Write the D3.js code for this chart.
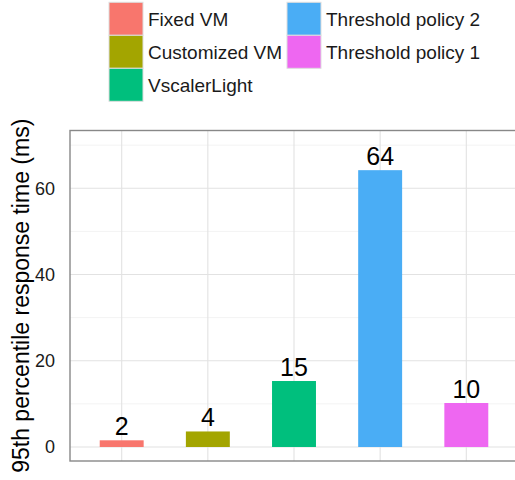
<!DOCTYPE html>
<html><head><meta charset="utf-8">
<script src="https://cdn.jsdelivr.net/npm/d3@7"></script>
<style>html,body{margin:0;padding:0;background:#fff;}svg{display:block;font-family:"Liberation Sans",Arial,sans-serif;}</style>
</head><body>
<script>
const categories = ["Fixed VM","Customized VM","VscalerLight","Threshold policy 2","Threshold policy 1"];
const values = [1.55, 3.6, 15.3, 64.2, 10.2];
const colors = ["#F8766D","#A3A500","#00BF7D","#4AADF5","#EE67F1"];
const yTicks = [0,20,40,60];
const yMinor = [10,30,50,70];
const yTitle = "95th percentile response time (ms)";

const W = 515, H = 480;
const svg = d3.select("body").append("svg").attr("width", W).attr("height", H);

const panel = {left:70, top:130.5, bottom:461, right:518};
const n = categories.length;
const step = (panel.right - panel.left) / (n - 1 + 1.2);
const x = d3.scalePoint().domain(categories).range([panel.left + 0.6*step, panel.right - 0.6*step]);
const y = d3.scaleLinear().domain([-3.25, 73.4]).range([panel.bottom, panel.top]);
const barW = step * 0.51;

const g = svg.append("g");
// minor grid
g.selectAll(".minor").data(yMinor).join("line")
  .attr("x1", panel.left).attr("x2", panel.right)
  .attr("y1", d=>y(d)).attr("y2", d=>y(d))
  .attr("stroke", "#f3f3f3").attr("stroke-width", 1);
// major grid
g.selectAll(".major").data(yTicks).join("line")
  .attr("x1", panel.left).attr("x2", panel.right)
  .attr("y1", d=>y(d)).attr("y2", d=>y(d))
  .attr("stroke", "#e2e2e2").attr("stroke-width", 1.1);
g.selectAll(".vgrid").data(categories).join("line")
  .attr("x1", d=>x(d)).attr("x2", d=>x(d))
  .attr("y1", panel.top).attr("y2", panel.bottom)
  .attr("stroke", "#e2e2e2").attr("stroke-width", 1.1);

// bars
g.selectAll(".bar").data(categories).join("rect")
  .attr("x", d=>x(d)-barW/2).attr("width", barW)
  .attr("y", (d,i)=>y(values[i])).attr("height", (d,i)=>y(0)-y(values[i]))
  .attr("fill", (d,i)=>colors[i]);

// labels
g.selectAll(".lbl").data(categories).join("text")
  .attr("x", d=>x(d)).attr("y", (d,i)=>y(values[i]) - 5.5)
  .attr("text-anchor","middle").attr("font-size", 25).attr("fill","#000")
  .text((d,i)=>Math.round(values[i]));

// panel border
svg.append("rect").attr("x", panel.left).attr("y", panel.top)
  .attr("width", panel.right-panel.left).attr("height", panel.bottom-panel.top)
  .attr("fill","none").attr("stroke","#888").attr("stroke-width",1.4);

// y axis labels
svg.selectAll(".ytick").data(yTicks).join("text")
  .attr("x", 55).attr("y", d=>y(d)).attr("dy","0.36em")
  .attr("text-anchor","end").attr("font-size",18).attr("fill","#1a1a1a")
  .text(d=>d);

// y title
svg.append("text").attr("transform", `translate(29,${(panel.top+panel.bottom)/2}) rotate(-90)`)
  .attr("text-anchor","middle").attr("font-size",23).attr("fill","#000").text(yTitle);

// legend
const legCols = [[0,1,2],[3,4]];
const legX = [109, 287], legY = 2.3, keyW = 34, keyH = 33;
legCols.forEach((col, ci) => {
  col.forEach((idx, ri) => {
    const ky = legY + ri*keyH;
    svg.append("rect").attr("x", legX[ci]).attr("y", ky).attr("width", keyW).attr("height", keyH)
      .attr("fill", colors[idx]).attr("stroke","#dedede").attr("stroke-width",1);
    svg.append("text").attr("x", legX[ci]+keyW+5).attr("y", ky+keyH/2).attr("dy","0.36em")
      .attr("font-size",19).attr("fill","#1a1a1a").text(categories[idx]);
  });
});
</script>
</body></html>
